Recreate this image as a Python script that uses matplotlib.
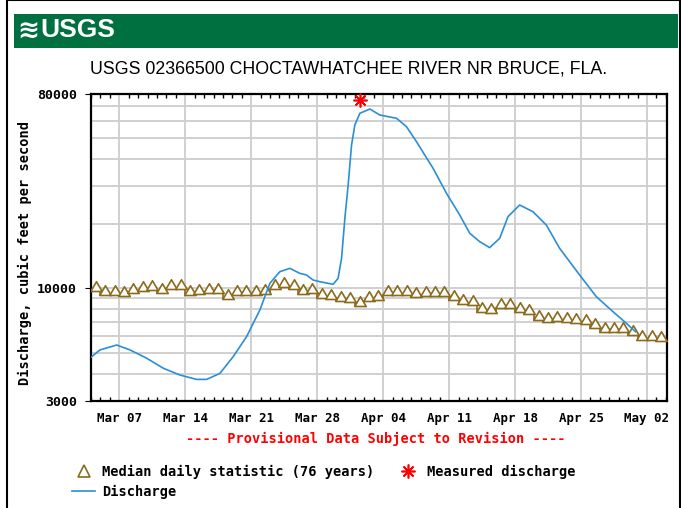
import datetime as dt
import matplotlib
matplotlib.use("Agg")
import matplotlib.pyplot as plt
import matplotlib.dates as mdates
from matplotlib.ticker import FixedLocator, NullFormatter
from matplotlib.lines import Line2D
from matplotlib.patches import Rectangle
from matplotlib.path import Path

# === Data ===
start = dt.datetime(2009, 3, 4)
end = dt.datetime(2009, 5, 4, 3)

# median daily statistic, one value per day from Mar 04 to May 03
median_cfs = [9760, 9320, 9320, 9250, 9490, 9760, 9830, 9560, 9910, 9910,
              9320, 9420, 9490, 9490, 8900, 9320, 9320, 9320, 9420, 9940,
              10120, 9910, 9420, 9490, 9000, 8900, 8770, 8680, 8290, 8770,
              8840, 9320, 9320, 9320, 9150, 9220, 9220, 9220, 8840, 8470,
              8350, 7800, 7660, 8090, 8090, 7750, 7580, 7130, 7010, 7060,
              6960, 6890, 6810, 6530, 6260, 6290, 6290, 6080, 5760, 5760,
              5700]

# discharge: days since Mar 04 00:00 and cfs
discharge_day = [0.0, 0.95, 2.73, 4.14, 5.91, 7.67, 9.44, 11.21, 12.27, 13.68,
                 15.09, 16.51, 17.92, 18.98, 20.04, 21.10, 22.16, 22.87, 23.57,
                 24.28, 25.69, 26.22, 26.59, 26.94, 27.29, 27.65, 28.00, 28.53,
                 29.59, 30.65, 32.42, 33.48, 34.54, 36.30, 37.72, 39.13, 40.19,
                 41.25, 42.31, 43.37, 44.25, 45.49, 46.90, 48.32, 49.73, 51.85,
                 53.63, 55.39, 56.81, 57.79]
discharge_cfs = [4790, 5180, 5460, 5180, 4740, 4260, 3960, 3780, 3780, 4030,
                 4820, 5970, 7940, 10560, 11960, 12400, 11750, 11550, 10940,
                 10750, 10450, 11140, 13800, 21170, 30240, 46350, 57430, 65070,
                 68130, 63900, 61700, 56400, 48040, 36140, 27670, 21930, 18040,
                 16490, 15470, 17090, 21540, 24400, 22720, 19700, 15360, 11550,
                 9150, 7800, 6890, 6290]

measured_day = [28.53]
measured_cfs = [75000]

title = "USGS 02366500 CHOCTAWHATCHEE RIVER NR BRUCE, FLA."
ytick_vals = [3000, 10000, 80000]

GREEN = "#007040"
BROWN = "#8c6a1c"
BLUE = "#2a8fd6"
MONO = "DejaVu Sans Mono"

median_dates = [start + dt.timedelta(days=i, hours=12) for i in range(len(median_cfs))]
discharge_dates = [start + dt.timedelta(days=d) for d in discharge_day]
measured_dates = [start + dt.timedelta(days=d) for d in measured_day]

W, H = 681, 508
fig = plt.figure(figsize=(W / 100, H / 100), dpi=100)

def fx(px):
    return px / W

def fy(py):
    return 1 - py / H

# border and header
fig.patches.append(Rectangle((fx(7), fy(530)), fx(673), 530 / H, transform=fig.transFigure,
                             fill=False, edgecolor="black", linewidth=1.5))
fig.patches.append(Rectangle((fx(14), fy(48)), fx(664), 34 / H, transform=fig.transFigure,
                             facecolor=GREEN, edgecolor="none"))
fig.text(fx(17), fy(31), "\u224b", color="white", fontsize=19, fontweight="bold",
         va="center", ha="left")
fig.text(fx(40), fy(30), "USGS", color="white", fontsize=19, fontweight="bold",
         family=["Liberation Sans Narrow", "Liberation Sans"], va="center", ha="left")
fig.text(fx(349), fy(69), title, fontsize=12.8, ha="center", va="center",
         family=["Liberation Sans Narrow", "Liberation Sans"])

ax = fig.add_axes([fx(91), fy(401), fx(667) - fx(91), (401 - 94) / H])
ax.set_yscale("log")
ax.set_ylim(3000, 80000)
ax.set_xlim(start, end)

# median: step line with triangles sitting on it
tri = Path([(-1, 0), (1, 0), (0, 1.7), (-1, 0)],
           [Path.MOVETO, Path.LINETO, Path.LINETO, Path.CLOSEPOLY])
ax.plot(median_dates, median_cfs, drawstyle="steps-mid", color=BROWN, lw=1.2, zorder=3)
ax.plot(median_dates, median_cfs, linestyle="none", marker=tri, markersize=14,
        markerfacecolor="white", markeredgecolor=BROWN, markeredgewidth=1.2, zorder=3)

ax.plot(discharge_dates, discharge_cfs, color=BLUE, lw=1.2, zorder=4)
ax.plot(measured_dates, measured_cfs, linestyle="none", marker=(8, 2, 0),
        markersize=10, color="red", markeredgewidth=1.2, zorder=5, clip_on=False)

# grid
ax.yaxis.set_major_locator(FixedLocator(ytick_vals))
ax.yaxis.set_major_formatter(plt.FuncFormatter(lambda v, p: f"{int(v)}"))
minor_y = [v * m for v in (1000, 10000) for m in range(2, 10)
           if 3000 < v * m < 80000 and v * m != 10000]
ax.yaxis.set_minor_locator(FixedLocator(minor_y))
ax.yaxis.set_minor_formatter(NullFormatter())

week_ticks = [start + dt.timedelta(days=3 + 7 * k) for k in range(9)]
ax.xaxis.set_major_locator(FixedLocator(mdates.date2num(week_ticks)))
ax.xaxis.set_major_formatter(mdates.DateFormatter("%b %d"))
ax.xaxis.set_minor_locator(mdates.DayLocator())

ax.grid(True, which="major", axis="x", color="#d0d0d0", lw=1.4, zorder=0)
ax.grid(True, which="both", axis="y", color="#d0d0d0", lw=1.4, zorder=0)
ax.set_axisbelow(True)
for s in ax.spines.values():
    s.set_linewidth(1.6)

ax.tick_params(axis="x", which="major", length=0, pad=8, labelsize=9)
ax.tick_params(axis="x", which="minor", direction="in", length=3, top=True, width=1)
ax.tick_params(axis="y", which="major", length=4, direction="out", pad=6, labelsize=9.5)
ax.tick_params(axis="y", which="minor", length=0)
for lab in ax.get_xticklabels() + ax.get_yticklabels():
    lab.set_family(MONO)
    lab.set_fontweight("bold")

fig.text(fx(25), fy(253), "Discharge, cubic feet per second", rotation=90,
         family=MONO, fontweight="bold", fontsize=9.8, ha="center", va="center")
fig.text(fx(376), fy(439), "---- Provisional Data Subject to Revision ----",
         color="red", family=MONO, fontweight="bold", fontsize=9.8,
         ha="center", va="center")

# legend
fig.lines.append(Line2D([fx(84)], [fy(471)], transform=fig.transFigure, marker="^",
                        markersize=9, markerfacecolor="white", markeredgecolor=BROWN,
                        markeredgewidth=1.2, linestyle="none"))
fig.text(fx(102), fy(472), "Median daily statistic (76 years)", family=MONO,
         fontweight="bold", fontsize=9.8, va="center")
fig.lines.append(Line2D([fx(408)], [fy(471)], transform=fig.transFigure, marker=(8, 2, 0),
                        markersize=10, color="red", markeredgewidth=1.2, linestyle="none"))
fig.text(fx(427), fy(472), "Measured discharge", family=MONO, fontweight="bold",
         fontsize=9.8, va="center")
fig.lines.append(Line2D([fx(72), fx(95)], [fy(491), fy(491)], transform=fig.transFigure,
                        color=BLUE, lw=1.2))
fig.text(fx(102), fy(492), "Discharge", family=MONO, fontweight="bold",
         fontsize=9.8, va="center")

fig.savefig("out.png", dpi=100)
plt.close(fig)
